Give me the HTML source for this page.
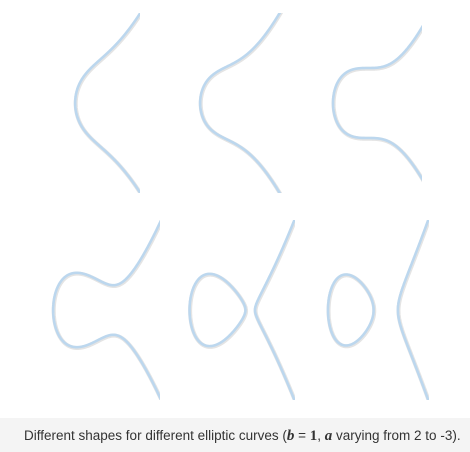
<!DOCTYPE html>
<html><head><meta charset="utf-8"><style>
html,body{margin:0;padding:0;background:#fff;width:470px;height:452px;overflow:hidden;}
body{position:relative;font-family:"Liberation Sans",sans-serif;}
#chart{position:absolute;left:0;top:0;overflow:hidden;display:block;}
#caption{position:absolute;left:0;top:418px;width:470px;height:34px;background:#f4f4f4;color:#333;font-size:13.5px;overflow:hidden;white-space:nowrap;}
#caption span.t{position:absolute;left:24px;top:9px;line-height:17px;}
.m{font-family:"Liberation Serif",serif;font-style:italic;font-weight:bold;font-size:15px;}
.n{font-family:"Liberation Serif",serif;font-weight:bold;font-size:15px;}
</style></head><body>
<svg id="chart" width="470" height="418" viewBox="0 0 470 418">
<defs id="defs"></defs>
<g id="panels"></g>
</svg>
<div id="caption"><span class="t">Different shapes for different elliptic curves (<span class="m">b</span> = <span class="n">1</span>, <span class="m">a</span> varying from 2 to -3).</span></div>
<script>
const aValues = [2, 1, 0, -1, -2, -3];
const bValue = 1;
const layout = [
  {cx:91,  cy:103, s:35,   clip:[0,13,140,180]},
  {cx:224, cy:103, s:35,   clip:[150,13,135,180]},
  {cx:368, cy:103, s:35,   clip:[290,13,132,180]},
  {cx:95,  cy:310, s:31.6, clip:[0,220,160,180]},
  {cx:230, cy:310, s:25,   clip:[170,220,125,180]},
  {cx:366.5,cy:310,s:20.5, clip:[300,220,129,180]}
];
const NS='http://www.w3.org/2000/svg';
const defs=document.getElementById('defs');
const panels=document.getElementById('panels');
function f(x,a){return x*x*x+a*x+bValue;}
function roots(a){
  const r=[];let prev=f(-10,a);
  for(let x=-10+0.01;x<=10;x+=0.01){
    const v=f(x,a);
    if((prev<0&&v>=0)||(prev>0&&v<=0)){
      let lo=x-0.01,hi=x;
      for(let i=0;i<60;i++){const m=(lo+hi)/2;if((f(lo,a)<0)===(f(m,a)<0))lo=m;else hi=m;}
      r.push((lo+hi)/2);
    }
    prev=v;
  }
  return r;
}
function samples(x0,x1){
  const pts=[];const N=400;
  for(let i=0;i<=N;i++){const t=i/N;pts.push(x0+(x1-x0)*(t*t));}
  return pts;
}
aValues.forEach((a,k)=>{
  const L=layout[k];
  const X=x=>L.cx+x*L.s, Y=y=>L.cy-y*L.s;
  const cp=document.createElementNS(NS,'clipPath');
  cp.setAttribute('id','clip'+k);
  const cr=document.createElementNS(NS,'rect');
  cr.setAttribute('x',L.clip[0]);cr.setAttribute('y',L.clip[1]);
  cr.setAttribute('width',L.clip[2]);cr.setAttribute('height',L.clip[3]);
  cp.appendChild(cr);defs.appendChild(cp);
  const g=document.createElementNS(NS,'g');
  
  
  g.setAttribute('clip-path','url(#clip'+k+')');
  const r=roots(a);
  const yLim=95/L.s;
  let xEnd=r[r.length-1];
  while(f(xEnd,a)<yLim*yLim && X(xEnd)<L.clip[0]+L.clip[2]+3) xEnd+=0.002;
  const comps=[];
  if(r.length===3){comps.push([r[0],r[1],true]);comps.push([r[2],xEnd,false]);}
  else comps.push([r[0],xEnd,false]);
  let d='';
  comps.forEach(([x0,x1,closed])=>{
    let xs;
    if(closed){
      const m=(x0+x1)/2;
      const A=samples(x0,m), B=samples(x1,m).reverse();
      xs=A.concat(B.slice(1));
    } else xs=samples(x0,x1);
    const up=xs.map(x=>[X(x),Y(Math.sqrt(Math.max(0,f(x,a))))]);
    const dn=xs.map(x=>[X(x),Y(-Math.sqrt(Math.max(0,f(x,a))))]);
    const path=up.slice().reverse().concat(dn.slice(1));
    d+='M'+path.map(p=>p[0].toFixed(2)+','+p[1].toFixed(2)).join('L');
    if(closed)d+='Z';
  });
  const sh=document.createElementNS(NS,'path');
  
  
  sh.setAttribute('d',d);sh.setAttribute('fill','none');
  sh.setAttribute('stroke','#e4e4e4');sh.setAttribute('stroke-width','4');
  sh.setAttribute('transform','translate(0.6,0.8)');
  g.appendChild(sh);
  const p=document.createElementNS(NS,'path');
  
  
  p.setAttribute('d',d);p.setAttribute('fill','none');
  p.setAttribute('stroke','#bcd7ee');p.setAttribute('stroke-width','2.6');
  p.setAttribute('stroke-linejoin','round');
  g.appendChild(p);
  panels.appendChild(g);
});
</script>
</body></html>
